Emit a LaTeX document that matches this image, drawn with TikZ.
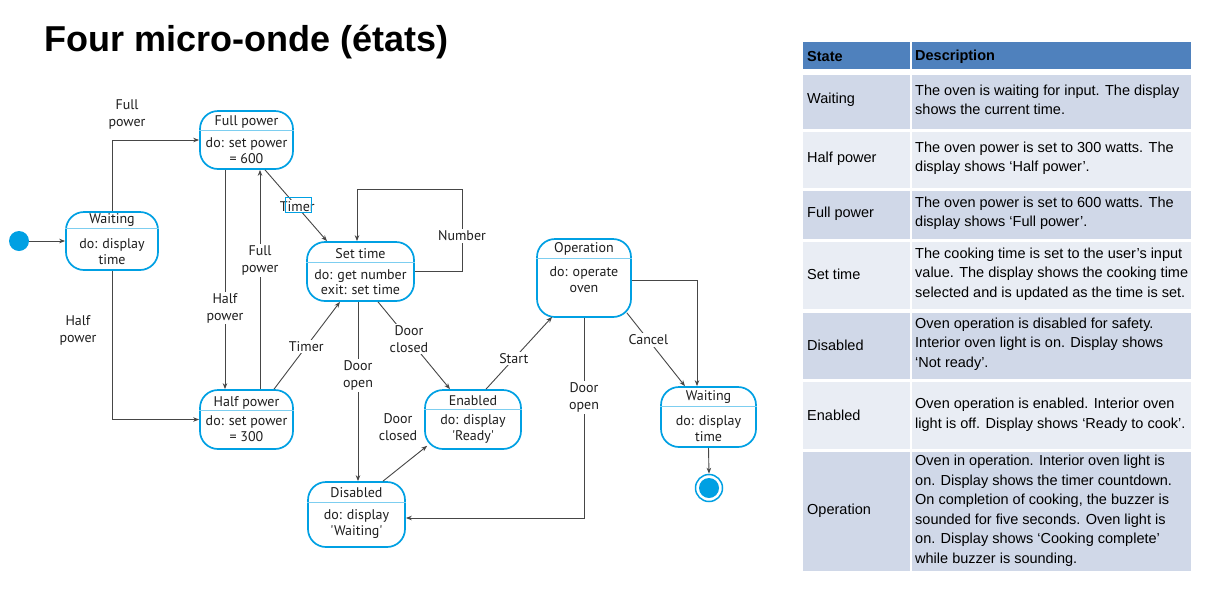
\documentclass[tikz,border=0pt]{standalone}
\usepackage{fontspec}
\setmainfont{Liberation Sans}
\newfontfamily\dgfont{PT Sans}
\usetikzlibrary{arrows.meta}
\definecolor{stcyan}{RGB}{0,160,227}
\definecolor{stdiv}{RGB}{125,206,240}
\definecolor{edgec}{RGB}{70,70,70}
\definecolor{txt}{RGB}{30,30,30}
\definecolor{thead}{RGB}{79,129,189}
\definecolor{tdark}{RGB}{208,216,232}
\definecolor{tlight}{RGB}{233,237,244}
\begin{document}
\begin{tikzpicture}[x=1pt,y=-1pt,
 stbox/.style={draw=stcyan,line width=1.7pt,rounded corners=18pt,fill=white,inner sep=0pt},
 stdivider/.style={draw=stdiv,line width=1pt},
 sttitle/.style={font=\dgfont\fontsize{14}{16}\selectfont,text=txt,inner sep=0pt},
 stbody/.style={font=\dgfont\fontsize{14}{16}\selectfont,text=txt,inner sep=0pt,align=center},
 lbl/.style={font=\dgfont\fontsize{14}{17}\selectfont,text=txt,fill=white,inner sep=1.5pt,align=center},
 tr/.style={draw=edgec,line width=0.9pt,-{Stealth[length=6pt,width=4.5pt]}},
 cellA/.style={anchor=west,font=\fontsize{14.5}{19.5}\selectfont,inner sep=0pt},
 cellB/.style={anchor=west,font=\fontsize{14.5}{19.5}\selectfont,inner sep=0pt,align=left},
 hdr/.style={anchor=west,font=\bfseries\fontsize{14.5}{17}\selectfont,inner sep=0pt},
]
\useasboundingbox[fill=white] (0,0) rectangle (1211,590);

% title
\node[anchor=base west,font=\bfseries\fontsize{36}{40}\selectfont,inner sep=0pt] (title) at (44,51) {Four micro-onde (états)};

% ---------- states ----------
\node[circle,fill=stcyan,minimum size=20pt,inner sep=0pt] (init) at (19,241) {};

\node[stbox,minimum width=92pt,minimum height=58pt] (w1) at (112,241) {};
\draw[stdivider] ([yshift=-17pt]w1.north west) -- ([yshift=-17pt]w1.north east);
\node[sttitle] (w1t) at (112,220) {Waiting};
\node[stbody] (w1b) at (112,252) {do: display\\time};

\node[stbox,minimum width=93pt,minimum height=58pt] (fp) at (246.5,140) {};
\draw[stdivider] ([yshift=-20pt]fp.north west) -- ([yshift=-20pt]fp.north east);
\node[sttitle] (fpt) at (246.5,121.5) {Full power};
\node[stbody] (fpb) at (246.5,151) {do: set power\\= 600};

\node[stbox,minimum width=107pt,minimum height=59pt] (st) at (360.5,271.5) {};
\draw[stdivider] ([yshift=-21pt]st.north west) -- ([yshift=-21pt]st.north east);
\node[sttitle] (stt) at (360.5,253.5) {Set time};
\node[stbody,font=\dgfont\fontsize{14}{15}\selectfont] (stb) at (360.5,282) {do: get number\\exit: set time};

\node[stbox,minimum width=93pt,minimum height=59pt] (hp) at (246.5,419.5) {};
\draw[stdivider] ([yshift=-21pt]hp.north west) -- ([yshift=-21pt]hp.north east);
\node[sttitle] (hpt) at (246.5,402.5) {Half power};
\node[stbody] (hpb) at (246.5,428.5) {do: set power\\= 300};

\node[stbox,minimum width=94pt,minimum height=78pt] (op) at (584,278) {};
\draw[stdivider] ([yshift=-20pt]op.north west) -- ([yshift=-20pt]op.north east);
\node[sttitle] (opt) at (584,249) {Operation};
\node[stbody] (opb) at (584,279.5) {do: operate\\oven};

\node[stbox,minimum width=96pt,minimum height=59pt] (en) at (473,419.5) {};
\draw[stdivider] ([yshift=-20pt]en.north west) -- ([yshift=-20pt]en.north east);
\node[sttitle] (ent) at (473,401) {Enabled};
\node[stbody] (enb) at (473,429) {do: display\\'Ready'};

\node[stbox,minimum width=97pt,minimum height=65pt] (dis) at (356.5,514.5) {};
\draw[stdivider] ([yshift=-21pt]dis.north west) -- ([yshift=-21pt]dis.north east);
\node[sttitle] (dist) at (356.5,493) {Disabled};
\node[stbody] (disb) at (356.5,524.5) {do: display\\'Waiting'};

\node[stbox,minimum width=95pt,minimum height=60pt] (w2) at (708.5,417) {};
\draw[stdivider] ([yshift=-20pt]w2.north west) -- ([yshift=-20pt]w2.north east);
\node[sttitle] (w2t) at (708.5,397) {Waiting};
\node[stbody] (w2b) at (708.5,428.5) {do: display\\time};

\node[circle,draw=stcyan,line width=1.5pt,minimum size=27pt,inner sep=0pt] (fin) at (709,488) {};
\node[circle,fill=stcyan,minimum size=20pt,inner sep=0pt] (finin) at (fin) {};

% ---------- transitions ----------
\draw[tr] (init.east) -- (w1.west);
\draw[tr] (w1.north) |- (fp.west);
\node[lbl,fill=none] (l1) at (127,114.5) {Full\\power};
\draw[tr] (w1.south) |- (hp.west);
\node[lbl,fill=none] (l2) at (78,330) {Half\\power};

\draw[tr] ([xshift=-21.5pt]fp.south) -- node[lbl,pos=0.63] (l3) {Half\\power} ([xshift=-21.5pt]hp.north);
\draw[tr] ([xshift=13.5pt]hp.north) -- node[lbl,pos=0.586] (l4) {Full\\power} ([xshift=13.5pt]fp.south);

\draw[tr] ([xshift=18.5pt]fp.south) -- node[lbl,pos=0.52] (l5) {Timer} ([xshift=-33.5pt]st.north);
\draw[stcyan,line width=0.8pt] (285.5,197.5) rectangle (311,212.5);
\draw[tr] ([xshift=27.5pt]hp.north) -- node[lbl,pos=0.49] (l6) {Timer} ([xshift=-20.5pt]st.south);

\coordinate (nloop) at (462,189);
\draw[tr] (st.east) -| node[lbl,pos=0.715] (l7) {Number} (nloop) -| ([xshift=-3.5pt]st.north);

\draw[tr] ([xshift=-2.5pt]st.south) -- node[lbl,pos=0.41] (l8) {Door\\open} ([xshift=1.5pt]dis.north);
\draw[tr] ([xshift=17.5pt]st.south) -- node[lbl,pos=0.43] (l9) {Door\\closed} ([xshift=-23pt]en.north);
\draw[tr] ([xshift=26.5pt]dis.north) -- ([xshift=3pt,yshift=4pt]en.south west);
\node[lbl,fill=none] (l10) at (398,427) {Door\\closed};
\draw[tr] ([xshift=13pt]en.north) -- node[lbl,pos=0.42] (l11) {Start} ([xshift=16pt,yshift=1pt]op.south west);
\draw[tr] (op.south) |- node[lbl,pos=0.199] (l12) {Door\\open} ([yshift=-3.5pt]dis.east);
\draw[tr] ([xshift=-5pt,yshift=5pt]op.south east) -- node[lbl,pos=0.37] (l13) {Cancel} ([xshift=-23.5pt]w2.north);
\draw[tr] ([yshift=-2pt]op.east) -| ([xshift=-11.5pt]w2.north);
\draw[tr] (w2.south) -- (fin.north);

% ---------- table ----------
\fill[thead] (803,42) rectangle (909.5,69);
\fill[thead] (912,42) rectangle (1191,69);
\node[hdr] (h1) at (807,57) {State};
\node[hdr] (h2) at (915,57) {Description};

\fill[tdark] (803,75) rectangle (909.5,129);   \fill[tdark] (912,75) rectangle (1191,129);
\fill[tlight] (803,132) rectangle (909.5,188); \fill[tlight] (912,132) rectangle (1191,188);
\fill[tdark] (803,191) rectangle (909.5,239);  \fill[tdark] (912,191) rectangle (1191,239);
\fill[tlight] (803,242) rectangle (909.5,309); \fill[tlight] (912,242) rectangle (1191,309);
\fill[tdark] (803,313) rectangle (909.5,379);  \fill[tdark] (912,313) rectangle (1191,379);
\fill[tlight] (803,382) rectangle (909.5,449); \fill[tlight] (912,382) rectangle (1191,449);
\fill[tdark] (803,452) rectangle (909.5,571);  \fill[tdark] (912,452) rectangle (1191,571);

\node[cellA] (a1) at (807,100) {Waiting};
\node[cellB] (b1) at (915,100) {The oven is waiting for input. The display\\shows the current time.};
\node[cellA] (a2) at (807,159) {Half power};
\node[cellB] (b2) at (915,158) {The oven power is set to 300 watts. The\\display shows ‘Half power’.};
\node[cellA] (a3) at (807,214) {Full power};
\node[cellB] (b3) at (915,213) {The oven power is set to 600 watts. The\\display shows ‘Full power’.};
\node[cellA] (a4) at (807,274) {Set time};
\node[cellB] (b4) at (915,274) {The cooking time is set to the user’s input\\value. The display shows the cooking time\\selected and is updated as the time is set.};
\node[cellA] (a5) at (807,345) {Disabled};
\node[cellB] (b5) at (915,344) {Oven operation is disabled for safety.\\Interior oven light is on. Display shows\\‘Not ready’.};
\node[cellA] (a6) at (807,415) {Enabled};
\node[cellB] (b6) at (915,414.5) {Oven operation is enabled. Interior oven\\light is off. Display shows ‘Ready to cook’.};
\node[cellA] (a7) at (807,511) {Operation};
\node[cellB] (b7) at (915,510.5) {Oven in operation. Interior oven light is\\on. Display shows the timer countdown.\\On completion of cooking, the buzzer is\\sounded for five seconds. Oven light is\\on. Display shows ‘Cooking complete’\\while buzzer is sounding.};
\end{tikzpicture}
\end{document}
